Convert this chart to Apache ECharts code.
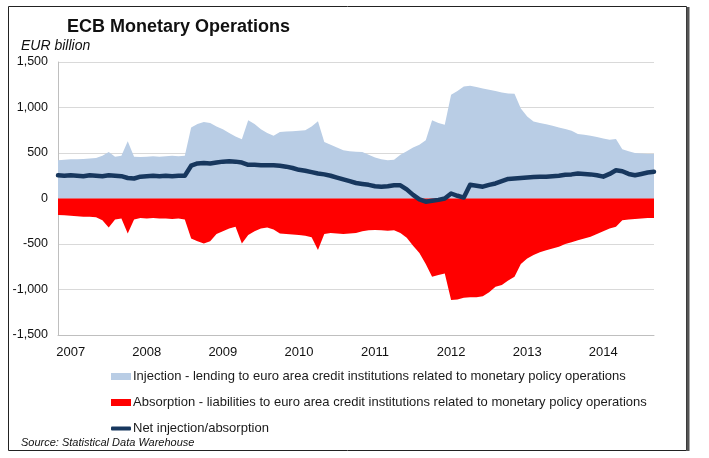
<!DOCTYPE html>
<html>
<head>
<meta charset="utf-8">
<title>ECB Monetary Operations</title>
<script src="https://cdn.jsdelivr.net/npm/echarts@6/dist/echarts.min.js"></script>
<style>
  html, body { margin: 0; padding: 0; background: #fff; }
  #chart { width: 709px; height: 458px; }
</style>
</head>
<body>
<div id="chart"></div>
<script>
/** ECB monetary operations, monthly readings Jan 2007 - Nov 2014 (EUR billion) */

var years = ['2007', '2008', '2009', '2010', '2011', '2012', '2013', '2014'];
var yTicks = [-1500, -1000, -500, 0, 500, 1000, 1500];

// injection - lending to euro area credit institutions
var injection = [
    420, 425, 430, 430, 435, 440, 445, 470, 510, 460, 470, 630,
    460, 455, 460, 465, 460, 465, 470, 465, 470, 780, 820, 840,
    830, 790, 760, 720, 680, 650, 860, 820, 760, 720, 690, 730,
    735, 740, 745, 750, 790, 850, 620, 590, 560, 530, 520, 515,
    510, 480, 450, 430, 420, 425, 480, 520, 560, 590, 640, 860,
    830, 810, 1140, 1180, 1230, 1240, 1225, 1210, 1195, 1180, 1165, 1155,
    1150, 990, 900, 845, 830, 815, 800, 780, 765, 745, 710, 700,
    690, 675, 660, 645, 655, 540, 520, 500, 495, 490, 490
];

// absorption - liabilities to euro area credit institutions
var absorption = [
    -180, -185, -190, -195, -200, -200, -205, -240, -320, -230, -220, -385,
    -230, -215, -220, -215, -220, -220, -225, -220, -230, -440, -470, -495,
    -470, -390, -360, -330, -310, -495, -400, -360, -330, -320, -340, -385,
    -390, -395, -400, -410, -425, -565, -390, -380, -385, -390, -385, -380,
    -360, -350, -345, -350, -355, -350, -380, -430, -520, -600, -720, -860,
    -840, -825, -1115, -1110, -1090, -1085, -1085, -1075, -1030, -970, -950, -900,
    -860, -720, -660, -620, -590, -570, -550, -530, -500, -480, -460, -440,
    -420, -390, -360, -330, -310, -240, -230, -225, -220, -215, -215
];

// net injection/absorption
var netFlow = [
    255, 250, 255, 250, 245, 255, 250, 245, 255, 250, 245, 225,
    220, 240, 245, 250, 245, 250, 245, 250, 250, 360, 385, 390,
    385, 395, 405, 410, 405, 395, 370, 370, 365, 365, 365, 360,
    350, 335, 315, 305, 290, 275, 265, 250, 230, 210, 190, 170,
    160, 150, 135, 130, 135, 145, 145, 100, 40, -10, -35, -25,
    -15, 0, 55, 30, 10, 150, 140, 130, 150, 165, 190, 215,
    220, 225, 230, 235, 240, 238, 245, 250, 260, 265, 275, 270,
    265, 255, 240, 270, 310, 300, 270, 255, 270, 285, 293
];

var legendNames = [
    'Injection - lending to euro area credit institutions related to monetary policy operations',
    'Absorption - liabilities to euro area credit institutions related to monetary policy operations',
    'Net injection/absorption'
];

// month categories Jan 2007 .. Nov 2014
var months = [];
years.forEach(function (y) {
    for (var m = 1; m <= 12; m++) {
        if (months.length < injection.length) {
            months.push(y + '-' + (m < 10 ? '0' + m : m));
        }
    }
});

var FONT = '"Liberation Sans", Arial, sans-serif';

function fmtThousands(v) {
    var s = Math.abs(v).toString().replace(/\B(?=(\d{3})+(?!\d))/g, ',');
    return (v < 0 ? '-' : '') + s;
}

function legendItem(name, icon, top, h) {
    return {
        data: [{ name: name, icon: icon }],
        left: 106, top: top, itemWidth: 20, itemHeight: h, itemGap: 0,
        textStyle: { fontFamily: FONT, fontSize: 13, color: '#1a1a1a', padding: [0, 0, 0, -3] },
        selectedMode: false
    };
}

var option = {
    animation: false,
    backgroundColor: '#fff',
    textStyle: { fontFamily: FONT },
    title: [
        {
            text: 'ECB Monetary Operations',
            left: 62, top: 13,
            textStyle: { fontFamily: FONT, fontSize: 18, fontWeight: 'bold', color: '#111' }
        },
        {
            text: 'EUR billion',
            left: 16, top: 34,
            textStyle: { fontFamily: FONT, fontSize: 14, fontStyle: 'italic', fontWeight: 'normal', color: '#111' }
        },
        {
            text: 'Source: Statistical Data Warehouse',
            left: 16, top: 432,
            textStyle: { fontFamily: FONT, fontSize: 11, fontStyle: 'italic', fontWeight: 'normal', color: '#111' }
        }
    ],
    graphic: [
        {
            type: 'rect',
            shape: { x: 8.5, y: 6.5, width: 678, height: 444 },
            style: { fill: 'none', stroke: '#222', lineWidth: 1 },
            silent: true
        },
        {
            type: 'line',
            shape: { x1: 688, y1: 7, x2: 688, y2: 451 },
            style: { stroke: '#555', lineWidth: 3 },
            silent: true
        }
    ],
    legend: [
        legendItem(legendNames[0], 'rect', 365, 7),
        legendItem(legendNames[1], 'rect', 391, 7),
        legendItem(legendNames[2], 'roundRect', 417, 4)
    ],
    grid: { left: 58, right: 55, top: 62, bottom: 123, containLabel: false },
    xAxis: {
        type: 'category',
        data: months,
        boundaryGap: false,
        axisLine: { onZero: false, lineStyle: { color: '#bfbfbf', width: 1 } },
        axisTick: { show: false },
        axisLabel: {
            interval: function (index) { return index % 12 === 2; },
            formatter: function (v) { return v.slice(0, 4); },
            fontFamily: FONT, fontSize: 13, color: '#111', margin: 11
        },
        splitLine: { show: false }
    },
    yAxis: {
        type: 'value',
        min: yTicks[0],
        max: yTicks[yTicks.length - 1],
        interval: 500,
        axisLine: { show: true, lineStyle: { color: '#bfbfbf', width: 1 } },
        axisTick: { show: false },
        axisLabel: {
            formatter: fmtThousands,
            fontFamily: FONT, fontSize: 12.5, color: '#111', margin: 10
        },
        splitLine: { lineStyle: { color: '#d9d9d9', width: 1 } }
    },
    series: [
        {
            name: legendNames[0],
            type: 'line',
            data: injection,
            symbol: 'none',
            lineStyle: { width: 0 },
            itemStyle: { color: '#b9cde5' },
            areaStyle: { color: '#b9cde5', opacity: 1 },
            z: 2
        },
        {
            name: legendNames[1],
            type: 'line',
            data: absorption,
            symbol: 'none',
            lineStyle: { width: 0 },
            itemStyle: { color: '#ff0000' },
            areaStyle: { color: '#ff0000', opacity: 1 },
            z: 2
        },
        {
            name: legendNames[2],
            type: 'line',
            data: netFlow,
            symbol: 'none',
            lineStyle: { width: 4.5, color: '#17375e', cap: 'round', join: 'round' },
            itemStyle: { color: '#17375e' },
            z: 3
        }
    ]
};

var myChart = echarts.init(document.getElementById('chart'), null, { renderer: 'canvas' });
myChart.setOption(option);
</script>
</body>
</html>
